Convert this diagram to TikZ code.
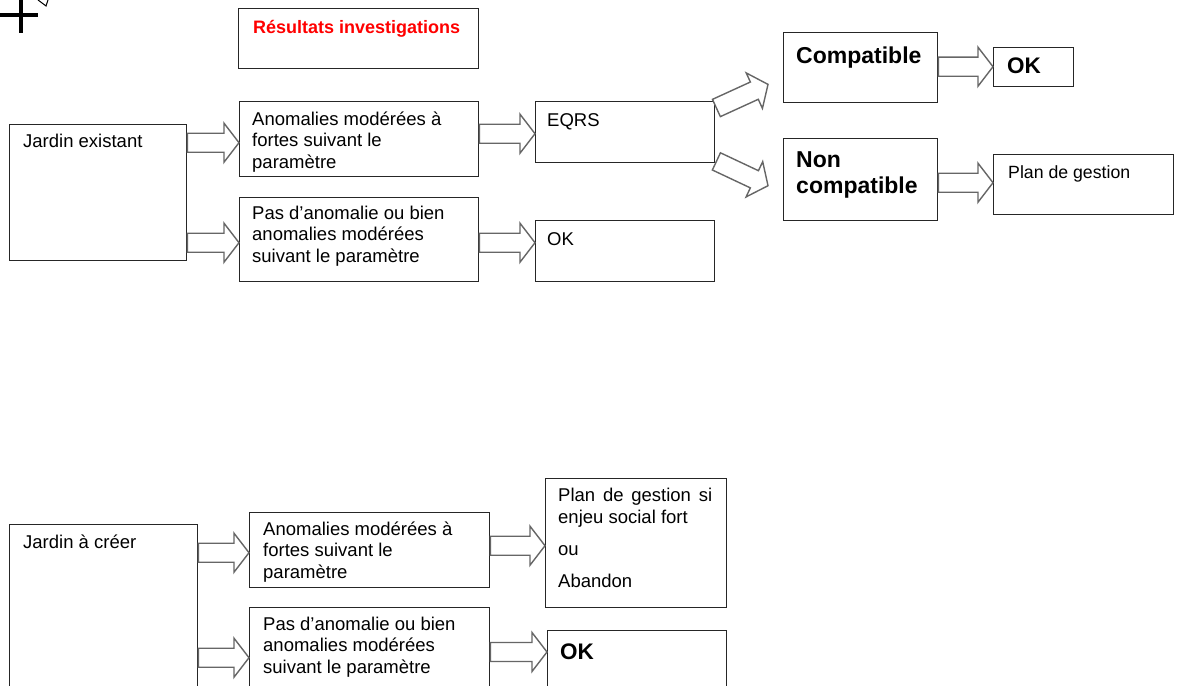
\documentclass[tikz,border=0pt]{standalone}
\usepackage{fontspec}
\setmainfont{Liberation Sans}
\usetikzlibrary{calc}
\tikzset{
  box/.style={draw=black!85, line width=1.4pt, rectangle, inner sep=0pt, anchor=north west},
  txt/.style={inner sep=0pt, anchor=base west, font=\fontsize{18.5}{21.6}\selectfont},
  mtxt/.style={inner sep=0pt, anchor=north west, align=left, font=\fontsize{18.5}{21.6}\selectfont},
  btxt/.style={inner sep=0pt, anchor=base west, font=\fontsize{23}{26}\selectfont\bfseries},
  mbtxt/.style={inner sep=0pt, anchor=north west, align=left, font=\fontsize{23}{26}\selectfont\bfseries},
  blockarrow/.style={draw=black!60, line width=1.4pt, fill=white, line join=miter},
  crossline/.style={draw=black, line width=4pt},
}
\newcommand{\barrow}[2]{%
  \draw[blockarrow] let \p1=#1, \p2=#2,
    \n1={atan2(\y2-\y1,\x2-\x1)}, \n2={veclen(\x2-\x1,\y2-\y1)} in
    ($(\p1)+(\n1+90:9.5pt)$)
    -- ($(\p1)+(\n1:\n2-15pt)+(\n1+90:9.5pt)$)
    -- ($(\p1)+(\n1:\n2-15pt)+(\n1+90:19.5pt)$)
    -- (\p2)
    -- ($(\p1)+(\n1:\n2-15pt)+(\n1-90:19.5pt)$)
    -- ($(\p1)+(\n1:\n2-15pt)+(\n1-90:9.5pt)$)
    -- ($(\p1)+(\n1-90:9.5pt)$) -- cycle;}
\begin{document}
\begin{tikzpicture}[x=1pt,y=-1pt]
\useasboundingbox (0,0) rectangle (1182,685);
\fill[white] (0,0) rectangle (1182,685);

% cut-off mark in the corner
\draw[crossline] (0,15) -- (38,15);
\draw[crossline] (21,0) -- (21,33);
\draw[black, line width=1pt] (38,0) -- (46,6) -- (48,0);

% boxes
\node[box, minimum width=240pt, minimum height=60pt] (title) at (238,8) {};
\node[box, minimum width=177pt, minimum height=136pt] (je) at (9,124) {};
\node[box, minimum width=239pt, minimum height=75pt] (a1) at (239,101) {};
\node[box, minimum width=239pt, minimum height=84pt] (a2) at (239,197) {};
\node[box, minimum width=179pt, minimum height=61pt] (eqrs) at (535,101) {};
\node[box, minimum width=179pt, minimum height=61pt] (ok1) at (535,220) {};
\node[box, minimum width=154pt, minimum height=70pt] (comp) at (783,32) {};
\node[box, minimum width=80pt, minimum height=39pt] (okb) at (993,47) {};
\node[box, minimum width=154pt, minimum height=82pt] (nc) at (783,138) {};
\node[box, minimum width=180pt, minimum height=60pt] (plan) at (993,154) {};

\node[box, minimum width=188pt, minimum height=200pt] (jc) at (9,524) {};
\node[box, minimum width=240pt, minimum height=75pt] (a3) at (249,512) {};
\node[box, minimum width=240pt, minimum height=120pt] (a4) at (249,607) {};
\node[box, minimum width=181pt, minimum height=129pt] (plan2) at (545,478) {};
\node[box, minimum width=179pt, minimum height=120pt] (okb2) at (547,630) {};

% texts
\node[inner sep=0pt, anchor=base west, text=red, font=\fontsize{18}{21}\selectfont\bfseries] (ttitle) at (253,34) {Résultats investigations};
\node[txt] (tje) at (23,147) {Jardin existant};
\node[mtxt] (ta1) at (252,109.9) {\strut Anomalies modérées à\\fortes suivant le\\paramètre};
\node[mtxt] (ta2) at (252,203.9) {\strut Pas d’anomalie ou bien\\anomalies modérées\\suivant le paramètre};
\node[txt] (teqrs) at (547,126) {EQRS};
\node[txt] (tok1) at (547,245) {OK};
\node[btxt] (tcomp) at (796,63.5) {Compatible};
\node[btxt, font=\fontsize{22.5}{26}\selectfont\bfseries] (tokb) at (1007,74) {OK};
\node[mbtxt] (tnc) at (796,149.3) {\strut Non\\compatible};
\node[inner sep=0pt, anchor=base west, font=\fontsize{17.7}{21}\selectfont] (tplan) at (1008,178) {Plan de gestion};

\node[txt] (tjc) at (23,548) {Jardin à créer};
\node[mtxt] (ta3) at (263,519.9) {\strut Anomalies modérées à\\fortes suivant le\\paramètre};
\node[mtxt] (ta4) at (263,614.9) {\strut Pas d’anomalie ou bien\\anomalies modérées\\suivant le paramètre};
\node[inner sep=0pt, anchor=north west, align=left, font=\fontsize{18.5}{22}\selectfont] (tplan2) at (558,485.6)
  {\strut\makebox[154pt][s]{Plan de gestion si}\\enjeu social fort\\[10pt]ou\\[10pt]Abandon};
\node[btxt, font=\fontsize{22.5}{26}\selectfont\bfseries] (tokb2) at (560,659) {OK};

% connection points
\coordinate (c1) at ($(a1.west)+(0,3.5)$);
\coordinate (c2) at ($(a2.west)+(0,3)$);
\coordinate (c3) at ($(eqrs.west)+(0,1.5)$);
\coordinate (c4) at ($(ok1.west)+(0,-8.5)$);
\coordinate (c5s) at ($(eqrs.north east)+(1,7)$);
\coordinate (c5) at ($(comp.south west)+(-15,-19)$);
\coordinate (c6s) at ($(eqrs.south east)+(1,-2)$);
\coordinate (c6) at ($(nc.west)+(-15,6)$);
\coordinate (c7) at ($(okb.west)+(0,-0.5)$);
\coordinate (c8) at ($(plan.west)+(0,-2)$);
\coordinate (c9) at ($(a3.west)+(0,2.5)$);
\coordinate (c10) at ($(a4.west)+(0,-10)$);
\coordinate (c11) at ($(plan2.west)+(0,2.5)$);
\coordinate (c12) at ($(okb2.north west)+(0,22)$);

% block arrows
\barrow{(je.east |- c1)}{(c1)}
\barrow{(je.east |- c2)}{(c2)}
\barrow{(a1.east |- c3)}{(c3)}
\barrow{(a2.east |- c4)}{(c4)}
\barrow{(c5s)}{(c5)}
\barrow{(c6s)}{(c6)}
\barrow{(comp.east |- c7)}{(c7)}
\barrow{(nc.east |- c8)}{(c8)}
\barrow{(jc.east |- c9)}{(c9)}
\barrow{(jc.east |- c10)}{(c10)}
\barrow{(a3.east |- c11)}{(c11)}
\barrow{(a4.east |- c12)}{(c12)}
\end{tikzpicture}
\end{document}
